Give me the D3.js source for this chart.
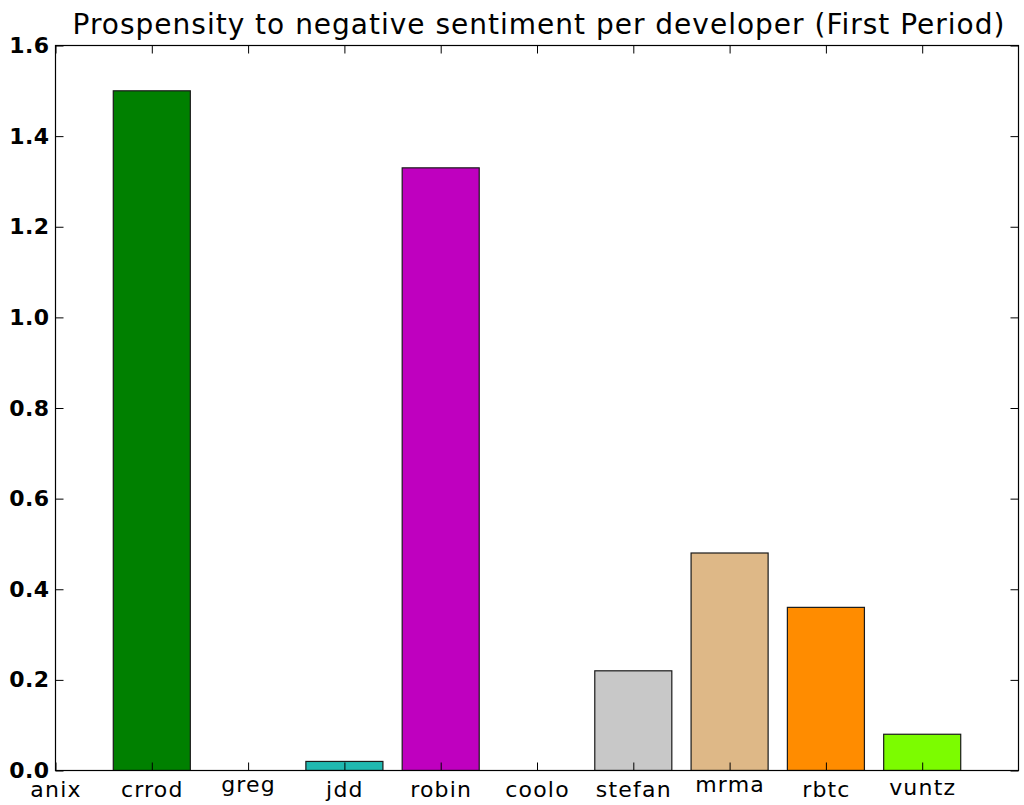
<!DOCTYPE html>
<html>
<head>
<meta charset="utf-8">
<script src="https://cdn.jsdelivr.net/npm/d3@7"></script>
<style>
  html, body { margin: 0; padding: 0; background: #fff; }
  svg { display: block; }
  text { font-family: "DejaVu Sans", sans-serif; fill: #000; }
</style>
</head>
<body>
<svg id="chart" width="1024" height="805"></svg>
<script>
// Developers along the x axis, in plotting order
const developers = ["anix", "crrod", "greg", "jdd", "robin", "coolo", "stefan", "mrma", "rbtc", "vuntz"];
// Propensity to negative sentiment for each developer
const propensity = [0, 1.5, 0, 0.02, 1.33, 0, 0.22, 0.48, 0.36, 0.08];
// Fill colour used for each developer's bar
const barColors = ["#0000ff", "#008000", "#ff0000", "#20b8b0", "#bf00bf", "#bfbf00", "#c8c8c8", "#deb887", "#ff8c00", "#7cfc00"];
// Y axis tick values and their labels
const yTicks = [0, 0.2, 0.4, 0.6, 0.8, 1.0, 1.2, 1.4, 1.6];
const yTickLabels = ["0.0", "0.2", "0.4", "0.6", "0.8", "1.0", "1.2", "1.4", "1.6"];
const title = "Prospensity to negative sentiment per developer (First Period)";

const svg = d3.select("#chart");
const plotLeft = 55.5, plotRight = 1018.5, plotTop = 45.5, plotBottom = 770.5;

// Linear x scale: one unit per developer, bars 0.8 wide centred on the tick
const x = d3.scaleLinear().domain([0, developers.length]).range([plotLeft, plotRight]);
const y = d3.scaleLinear().domain([0, 1.6]).range([plotBottom, plotTop]);
const barWidth = 0.8;

svg.append("defs").append("clipPath").attr("id", "plot-clip")
  .append("rect").attr("x", plotLeft).attr("y", plotTop)
  .attr("width", plotRight - plotLeft).attr("height", plotBottom - plotTop);

// Bars
svg.append("g").attr("clip-path", "url(#plot-clip)")
  .selectAll("rect").data(developers).join("rect")
  .attr("x", (d, i) => x(i - barWidth / 2))
  .attr("width", (d, i) => x(i + barWidth / 2) - x(i - barWidth / 2))
  .attr("y", (d, i) => y(propensity[i]))
  .attr("height", (d, i) => y(0) - y(propensity[i]))
  .attr("fill", (d, i) => barColors[i])
  .attr("stroke", "#1a1a1a")
  .attr("stroke-width", 1.2);

// Tick labels are top-aligned on their inked extent, so words without
// tall letters sit a little higher than words with ascenders.
function labelLift(word) {
  if (/[bdfhklijA-Z]/.test(word)) return 0;
  if (/t/.test(word)) return 2;
  return 5;
}

// Axes with inward ticks on all four sides
const tickLen = 8;
const xBottom = d3.axisBottom(x).tickValues(d3.range(developers.length))
  .tickFormat(i => developers[i]).tickSizeInner(-tickLen).tickSizeOuter(0).tickPadding(11);
const gxb = svg.append("g").attr("transform", `translate(0,${plotBottom})`).call(xBottom);
gxb.selectAll("text")
  .attr("font-size", 22).attr("letter-spacing", 1.2)
  .attr("font-family", "DejaVu Sans")
  .attr("y", i => 11 - labelLift(developers[i]));

const xTop = d3.axisTop(x).tickValues(d3.range(developers.length))
  .tickFormat("").tickSizeInner(-tickLen).tickSizeOuter(0);
svg.append("g").attr("transform", `translate(0,${plotTop})`).call(xTop);

const yLeft = d3.axisLeft(y).tickValues(yTicks).tickFormat((d, i) => yTickLabels[i])
  .tickSizeInner(-tickLen).tickSizeOuter(0).tickPadding(6);
const gyl = svg.append("g").attr("transform", `translate(${plotLeft},0)`).call(yLeft);
gyl.selectAll("text").attr("font-size", 22).attr("font-weight", "bold")
  .attr("letter-spacing", 0.4).attr("font-family", "DejaVu Sans");

const yRight = d3.axisRight(y).tickValues(yTicks).tickFormat("")
  .tickSizeInner(-tickLen).tickSizeOuter(0);
svg.append("g").attr("transform", `translate(${plotRight},0)`).call(yRight);

svg.selectAll(".domain").remove();
svg.selectAll(".tick line").attr("stroke", "#000").attr("stroke-width", 1);

// Frame around the plotting area
svg.append("rect")
  .attr("x", plotLeft).attr("y", plotTop)
  .attr("width", plotRight - plotLeft).attr("height", plotBottom - plotTop)
  .attr("fill", "none").attr("stroke", "#000").attr("stroke-width", 1.2);

// Title
svg.append("text")
  .attr("x", (plotLeft + plotRight) / 2 + 2).attr("y", 34)
  .attr("text-anchor", "middle")
  .attr("font-size", 28)
  .attr("letter-spacing", 1)
  .text(title);
</script>
</body>
</html>
